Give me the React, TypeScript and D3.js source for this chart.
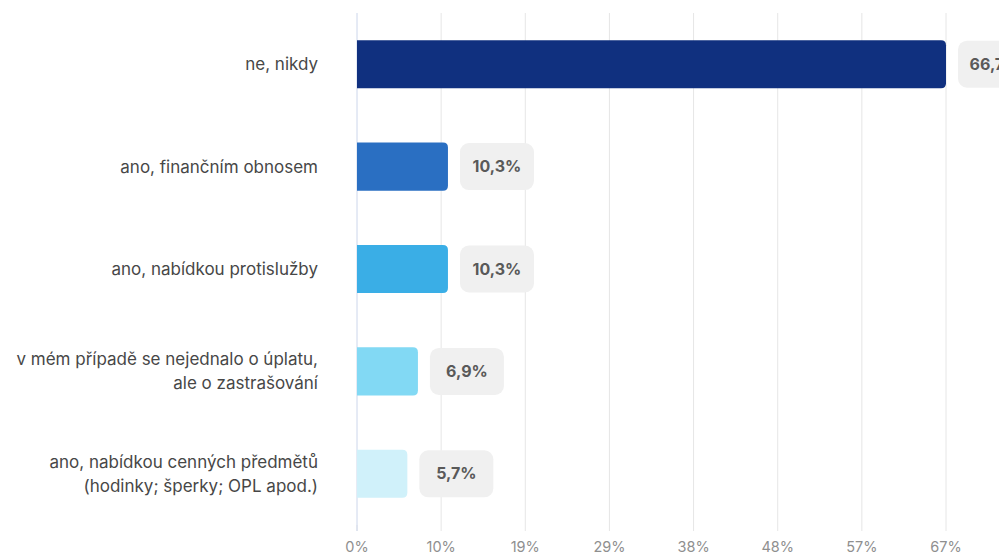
import React from "react";
import * as d3 from "d3";

const categories: string[][] = [
  ["ne, nikdy"],
  ["ano, finančním obnosem"],
  ["ano, nabídkou protislužby"],
  ["v mém případě se nejednalo o úplatu,", "ale o zastrašování"],
  ["ano, nabídkou cenných předmětů", "(hodinky; šperky; OPL apod.)"],
];
const values: number[] = [66.7, 10.3, 10.3, 6.9, 5.7];
const colors: string[] = ["#10307f", "#2a6fc2", "#3aaee6", "#82d9f4", "#d0f1fa"];
const maxValue = 66.7;
const tickCount = 7;

const W = 999;
const H = 554;
const left = 357;
const right = 946;
const top = 13;
const bottom = 525;

export default function App() {
  const x = d3.scaleLinear().domain([0, maxValue]).range([left, right]);
  const y = d3
    .scaleBand<number>()
    .domain(d3.range(values.length))
    .range([top, bottom])
    .paddingInner(0.53)
    .paddingOuter(0.265);
  const ticks = d3.range(tickCount + 1).map((i) => (i * maxValue) / tickCount);
  const bh = y.bandwidth();
  const r = 5;
  const fmt = (v: number) => v.toFixed(1).replace(".", ",") + "%";
  const font = "Inter, 'Noto Sans', sans-serif";

  return (
    <div style={{ position: "fixed", left: 0, top: 0, width: W, height: H, overflow: "hidden", background: "#fff" }}>
      <svg width={W} height={H} style={{ display: "block", fontFamily: font }}>
        {ticks.map((t, i) => (
          <g key={i}>
            {i > 0 && (
              <line x1={x(t)} x2={x(t)} y1={top} y2={bottom} stroke="#e6e6e6" strokeWidth={1} />
            )}
            <line x1={x(t)} x2={x(t)} y1={bottom} y2={bottom + 6} stroke="#e6e6e6" strokeWidth={1} />
            <text x={x(t)} y={547} dy="0.35em" textAnchor="middle" fontSize={14.5} fill="#8f8f8f">
              {Math.round(t) + "%"}
            </text>
          </g>
        ))}
        <line x1={left} x2={left} y1={top} y2={bottom + 6} stroke="#ccd6eb" strokeWidth={1} />
        {values.map((v, i) => {
          const y0 = y(i)!;
          const x0 = x(0);
          const x1 = x(v);
          const path = `M${x0},${y0} H${x1 - r} Q${x1},${y0} ${x1},${y0 + r} V${y0 + bh - r} Q${x1},${y0 + bh} ${x1 - r},${y0 + bh} H${x0} Z`;
          const cy = y0 + bh / 2;
          const lines = categories[i];
          const bx = x1 + 12;
          const bw = 74;
          return (
            <g key={i}>
              <path d={path} fill={colors[i]} />
              <rect x={bx} y={cy - 23.5} width={bw} height={47} rx={9} fill="#f0f0f0" />
              <text
                x={bx + bw / 2}
                y={cy}
                dy="0.35em"
                textAnchor="middle"
                fontSize={16}
                fontWeight={700}
                fill="#595959"
              >
                {fmt(v)}
              </text>
              {lines.map((l, j) => (
                <text
                  key={j}
                  x={318}
                  y={cy + (j - (lines.length - 1) / 2) * 24}
                  dy="0.35em"
                  textAnchor="end"
                  fontSize={17}
                  fill="#474747"
                >
                  {l}
                </text>
              ))}
            </g>
          );
        })}
      </svg>
    </div>
  );
}
